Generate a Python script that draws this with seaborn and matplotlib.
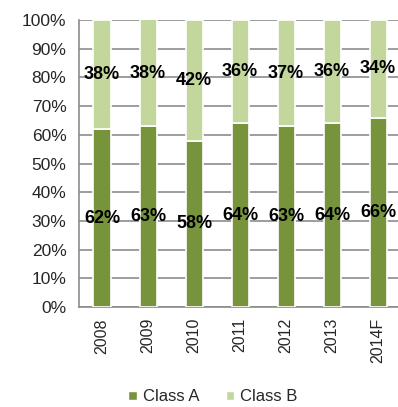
import numpy as np
import pandas as pd
import matplotlib
matplotlib.use("Agg")
import matplotlib.pyplot as plt
import seaborn as sns
from matplotlib.patches import Patch

years = ["2008", "2009", "2010", "2011", "2012", "2013", "2014F"]
class_a = [62, 63, 58, 64, 63, 64, 66]
class_b = [38, 38, 42, 36, 37, 36, 34]
y_ticks = [0, 10, 20, 30, 40, 50, 60, 70, 80, 90, 100]

color_a = "#77933C"
color_b = "#C3D69B"
grid_c = "#8C8C8C"

sns.set_style("white")
plt.rcParams["font.family"] = ["Liberation Sans", "DejaVu Sans"]

fig = plt.figure(figsize=(3.98, 4.07), dpi=100)
ax = fig.add_axes([79 / 398, 1 - 307 / 407, 1.008 - 79 / 398, (307 - 20) / 407])

df = pd.DataFrame({"year": years, "A": class_a, "B": class_b})
sns.barplot(data=df, x="year", y="A", color=color_a, saturation=1, width=0.37,
            edgecolor="white", linewidth=1.2, ax=ax, zorder=3)
pos = np.arange(len(years))
bars_b = ax.bar(pos, df["B"], bottom=df["A"], width=0.37, color=color_b,
                edgecolor="white", linewidth=1.2, zorder=3)

ax.bar_label(ax.containers[0], labels=[f"{v}%" for v in class_a], label_type="center",
             fontsize=13, fontweight="bold", color="black", zorder=5)
ax.bar_label(bars_b, labels=[f"{v}%" for v in class_b], label_type="center",
             fontsize=13, fontweight="bold", color="black", zorder=5)

ax.set_ylim(0, 100)
ax.set_xlim(-0.5, len(years) - 0.5)
ax.set_yticks(y_ticks)
ax.set_yticklabels([f"{v}%" for v in y_ticks], fontsize=12.5)
ax.set_xticks(pos)
ax.set_xticklabels(years, rotation=90, fontsize=11.5)
ax.set_xticks(np.arange(-0.5, len(years)), minor=True)
ax.tick_params(axis="x", which="major", length=0, pad=8)
ax.tick_params(axis="x", which="minor", length=5, color=grid_c, width=1)
ax.tick_params(axis="y", length=6, color=grid_c, width=1, pad=3)
ax.set_xlabel("")
ax.set_ylabel("")
ax.yaxis.grid(True, color=grid_c, linewidth=1.2, zorder=0)
ax.set_axisbelow(True)
for s in ["top", "right"]:
    ax.spines[s].set_visible(False)
for s in ["left", "bottom"]:
    ax.spines[s].set_color(grid_c)
    ax.spines[s].set_linewidth(1.2)

handles = [Patch(facecolor=color_a, label="Class A"), Patch(facecolor=color_b, label="Class B")]
fig.legend(handles=handles, loc="lower center", bbox_to_anchor=(0.535, -0.03), ncol=2,
           frameon=False, fontsize=12, handlelength=0.5, handleheight=0.5,
           handletextpad=0.35, columnspacing=1.6)

fig.savefig("out.png", dpi=100)
